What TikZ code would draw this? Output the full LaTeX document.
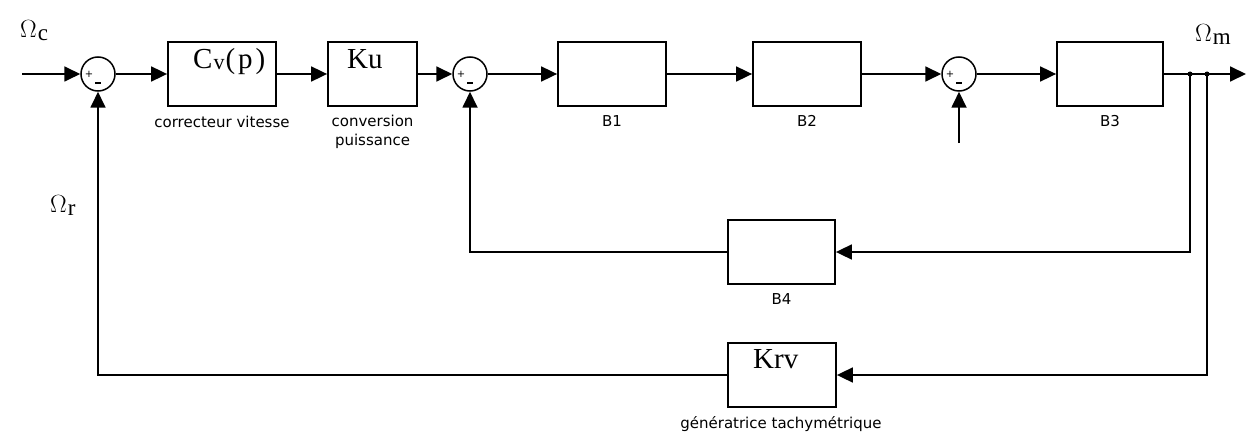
\documentclass[tikz,border=0pt]{standalone}
\usepackage{fontspec}
\setmainfont{Liberation Serif}
\newfontfamily\labfont{DejaVu Sans}
\usetikzlibrary{arrows.meta,calc}
\newcommand\bigser{\fontsize{29}{31}\selectfont}
\newcommand\mysub[1]{\kern1pt\raisebox{-3pt}{\fontsize{23}{23}\selectfont #1}}
\tikzset{
  blk/.style={draw,line width=1.8pt,inner sep=0pt,minimum height=64pt},
  sumnode/.style={draw,circle,line width=1.5pt,minimum size=34pt,inner sep=0pt},
  plus/.style={font=\labfont\fontsize{10}{10}\selectfont,inner sep=0pt},
  minus/.style={fill,inner sep=0pt,minimum width=6pt,minimum height=1.4pt},
  wire/.style={line width=1.8pt},
  arr/.style={wire,-{Triangle[length=16pt,width=15pt]}},
  lab/.style={font=\labfont\fontsize{15}{18}\selectfont,anchor=base,inner sep=0pt},
  ser/.style={font=\bigser,anchor=base west,inner sep=0pt},
  dot/.style={circle,fill,inner sep=0pt,minimum size=5pt}
}
\begin{document}
\begin{tikzpicture}[x=1pt,y=-1pt]
\useasboundingbox (0,0) rectangle (1246,433);
% blocks
\node[blk,minimum width=108pt] (cv) at (222,74) {};
\node[blk,minimum width=89pt] (ku) at (372.5,74) {};
\node[blk,minimum width=108pt] (b1) at (612,74) {};
\node[blk,minimum width=108pt] (b2) at (807,74) {};
\node[blk,minimum width=106pt] (b3) at (1110,74) {};
\node[blk,minimum width=107pt] (b4) at (781.5,252) {};
\node[blk,minimum width=108pt] (krv) at (782,375) {};
% summing junctions
\node[sumnode] (s1) at (98,74) {};
\node[sumnode] (s2) at (470,74) {};
\node[sumnode] (s3) at (959,74) {};
\node[plus] (p1) at ($(s1)+(-9,0)$) {+};
\node[plus] (p2) at ($(s2)+(-9,0)$) {+};
\node[plus] (p3) at ($(s3)+(-9,0)$) {+};
\node[minus] (m1) at ($(s1)+(0,9)$) {};
\node[minus] (m2) at ($(s2)+(0,9)$) {};
\node[minus] (m3) at ($(s3)+(0,9)$) {};
% branch points
\node[dot] (d1) at (1190,74) {};
\node[dot] (d2) at (1207,74) {};
\coordinate (in) at (22,74);
\coordinate (out) at (1246,74);
\coordinate (dist) at (959,143);
% texts
\node[ser] (omc) at (20,38) {$\Omega$\mysub{c}};
\node[ser] (omm) at (1195,42) {$\Omega$\mysub{m}};
\node[ser] (omr) at (50,212) {$\Omega$\mysub{r}};
\node[ser] (tcv) at (193,69) {C\kern1pt\raisebox{-1pt}{\fontsize{22}{22}\selectfont v}\kern1pt(\kern3pt p\kern3pt)};
\node[ser] (tku) at (347,69) {Ku};
\node[ser] (tkrv) at (753,368) {Krv};
\node[lab] (lcv) at (222,128) {correcteur vitesse};
\node[lab] (lku1) at (372.5,127) {conversion};
\node[lab] (lku2) at (372.5,145) {puissance};
\node[lab] (lb1) at (612,127) {B1};
\node[lab] (lb2) at (807,127) {B2};
\node[lab] (lb3) at (1110,127) {B3};
\node[lab] (lb4) at (781.5,304) {B4};
\node[lab] (lkrv) at (781,428) {génératrice tachymétrique};
% forward path
\draw[arr] (in) -- (s1);
\draw[arr] (s1) -- (cv);
\draw[arr] (cv) -- (ku);
\draw[arr] (ku) -- (s2);
\draw[arr] (s2) -- (b1);
\draw[arr] (b1) -- (b2);
\draw[arr] (b2) -- (s3);
\draw[arr] (s3) -- (b3);
\draw[arr] (b3) -- (out);
\draw[arr] (dist) -- (s3);
% feedback loops
\draw[arr] (d1.center) |- (b4.east);
\draw[arr] (b4.west) -| (s2.south);
\draw[arr] (d2.center) |- (krv.east);
\draw[arr] (krv.west) -| (s1.south);
\end{tikzpicture}
\end{document}
